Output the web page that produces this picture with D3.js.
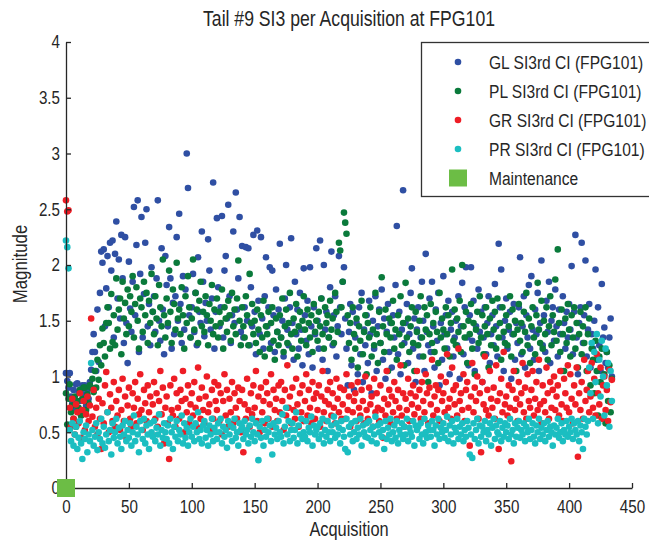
<!DOCTYPE html>
<html><head><meta charset="utf-8">
<script src="https://cdn.jsdelivr.net/npm/d3@7"></script>
<style>
body{margin:0;background:#fff}
svg text{font-family:"Liberation Sans",Arial,sans-serif;fill:#262626}
</style>
</head><body><svg id="c" width="649" height="542"></svg>
<script>
const titleText = "Tail #9 SI3 per Acquisition at FPG101";
const xLabel = "Acquisition";
const yLabel = "Magnitude";
const seriesNames = ["GL SI3rd CI (FPG101)","PL SI3rd CI (FPG101)","GR SI3rd CI (FPG101)","PR SI3rd CI (FPG101)"];
const seriesColors = ["#2f4fa3","#0a7a3b","#ee1d25","#1bbec1"];
const maintenanceName = "Maintenance";
const maintenanceColor = "#6cbd45";
const maintenanceX = [0];
const maintenanceY = [0];
const xTicks = [0,50,100,150,200,250,300,350,400,450];
const yTicks = [0,0.5,1,1.5,2,2.5,3,3.5,4];
const yTickLabels = ["0","0.5","1","1.5","2","2.5","3","3.5","4"];

const glValues = [
1.03,0.96,0.90,1.03,0.82,0.76,0.88,0.71,0.93,0.94,
0.86,0.78,0.65,0.92,0.84,0.92,0.74,0.88,0.80,0.95,
1.06,1.22,1.38,1.22,1.05,1.60,1.13,1.75,2.12,2.02,
2.14,1.45,1.79,2.08,1.62,2.20,1.95,2.22,1.35,2.10,
2.39,1.70,2.05,1.52,2.27,1.88,1.30,2.25,1.48,1.12,
2.03,1.61,1.40,1.85,2.52,1.55,2.18,2.58,1.22,1.92,
2.43,1.35,1.74,2.20,2.50,1.45,1.65,1.28,1.98,1.58,
1.72,1.40,1.88,2.58,1.50,1.32,2.15,1.60,1.20,2.08,
1.82,1.45,2.34,1.88,1.25,1.66,1.38,1.72,2.25,1.50,
2.46,1.65,1.30,1.90,1.42,1.78,3.00,2.69,1.55,1.35,
1.62,1.92,1.40,1.75,1.28,2.07,1.58,1.48,2.30,1.85,
1.36,1.66,1.50,2.23,1.95,1.42,1.70,2.74,1.25,1.58,
2.42,1.80,1.45,1.62,2.44,1.35,1.95,2.08,1.52,2.54,
1.72,1.30,1.55,2.30,1.48,2.65,1.60,1.88,2.43,1.40,
2.17,1.35,1.62,2.16,1.50,2.15,1.28,1.80,1.45,2.27,
1.58,1.20,2.31,1.68,1.38,2.25,1.52,1.25,1.72,2.07,
1.45,1.62,1.98,1.30,1.95,1.55,1.22,1.78,1.40,1.60,
2.19,1.35,1.50,1.18,1.70,2.00,1.42,1.28,1.62,2.24,
1.48,1.15,1.85,1.38,1.60,1.25,1.75,1.42,1.10,1.97,
1.55,1.32,1.68,1.20,1.98,1.45,1.08,1.62,1.38,2.15,
1.50,1.25,2.22,1.70,1.15,2.00,1.42,1.58,1.05,1.35,
1.80,2.12,1.28,1.55,1.72,1.18,1.45,2.08,1.62,1.38,
1.85,1.98,1.52,1.25,0.92,1.40,1.65,1.10,1.58,0.88,
1.35,1.48,1.02,1.62,1.20,1.75,0.95,1.42,1.28,1.55,
1.12,1.68,1.38,0.85,1.50,1.25,1.72,1.05,1.45,1.60,
1.30,1.78,1.15,1.52,0.98,1.40,1.65,1.22,1.48,1.08,
1.55,1.35,1.82,2.35,1.20,1.58,1.02,1.42,2.67,1.30,
1.48,1.65,1.12,1.38,1.75,1.97,1.25,1.52,0.95,1.42,
1.62,1.18,1.35,1.85,1.50,1.05,2.10,1.40,1.28,1.70,
1.22,1.85,1.45,1.08,1.60,1.32,1.75,0.92,1.48,1.15,
1.90,1.38,1.55,1.25,1.68,1.02,1.42,1.58,1.18,1.35,
1.50,1.28,1.72,0.98,1.45,1.84,1.20,1.62,1.98,1.35,
1.10,1.55,1.98,1.32,1.68,1.05,1.45,1.25,1.78,1.40,
1.58,0.95,1.35,1.62,1.20,1.48,1.72,1.12,1.38,1.55,
1.28,1.83,1.45,1.18,2.19,1.62,1.96,1.35,1.05,1.50,
1.70,1.25,1.42,1.58,0.98,1.38,1.65,1.15,1.48,1.30,
1.62,2.07,1.20,1.45,1.72,1.08,1.55,1.35,1.82,1.25,
1.90,1.42,1.15,1.60,1.38,1.75,1.05,1.48,2.04,1.28,
1.55,1.22,1.68,1.40,1.85,1.12,1.50,1.62,1.32,1.78,
1.45,1.18,1.60,1.38,1.05,1.72,1.48,1.25,1.58,1.35,
1.65,1.42,1.99,1.20,1.58,2.27,1.35,1.02,1.48,1.62,
2.20,1.30,1.55,2.04,1.18,1.42,1.65,1.08,1.38,1.25,
1.50,1.96,1.15,1.62,1.28,1.05,1.83,1.35,1.44,1.12,
1.22,1.08,1.35,1.52,1.00];

const plValues = [
0.85,0.57,0.80,0.93,0.68,0.74,0.62,0.82,0.55,0.78,
0.72,0.88,0.65,0.80,0.90,0.90,0.70,0.84,0.76,0.92,
0.90,0.98,0.86,1.05,0.90,1.15,0.97,1.28,1.10,1.43,
1.30,1.18,1.48,1.62,1.48,1.25,1.74,1.31,1.55,1.28,
1.88,1.42,1.60,1.70,1.20,1.85,1.52,1.66,1.38,1.78,
1.45,1.72,1.58,1.90,1.35,1.65,1.80,1.50,1.25,1.70,
1.62,1.40,1.85,1.55,1.75,1.30,1.68,1.48,1.92,1.58,
1.38,1.72,1.52,1.28,1.82,1.62,1.45,2.05,1.55,1.35,
1.70,1.48,1.95,1.58,1.30,1.78,1.65,1.42,2.02,1.52,
1.60,1.38,1.80,1.55,1.25,1.72,1.48,1.90,1.62,1.35,
1.52,2.05,1.42,1.75,1.60,1.30,1.68,1.85,1.45,1.58,
1.40,1.72,1.55,1.28,1.65,1.50,1.82,1.38,1.60,1.45,
1.70,1.35,1.58,1.48,1.78,1.25,1.62,1.52,1.40,1.68,
1.55,1.32,1.75,1.45,1.60,1.38,1.70,2.04,1.50,1.28,
1.62,1.45,1.35,1.72,1.55,1.28,1.92,1.48,1.65,1.38,
1.50,1.30,1.60,1.42,1.22,1.55,1.35,1.68,1.18,1.45,
1.38,1.58,1.25,1.48,1.62,1.32,1.15,1.52,1.40,1.28,
1.55,1.35,1.70,1.22,1.45,1.60,1.30,1.48,1.75,1.38,
1.25,1.52,1.40,1.65,1.18,1.45,1.58,1.32,1.50,1.72,
1.42,1.28,1.60,1.48,1.35,1.55,1.22,1.65,1.40,1.50,
1.32,1.58,1.45,1.70,1.38,1.25,1.62,1.48,1.55,1.35,
1.68,1.42,1.52,1.30,1.75,1.58,1.40,2.20,2.13,1.62,
1.85,2.47,2.38,2.28,1.55,1.30,1.48,1.15,1.62,1.38,
1.25,1.52,1.08,1.45,1.32,1.68,1.20,1.40,1.55,1.02,
1.48,1.35,1.62,1.18,1.42,1.28,1.75,1.38,1.12,1.58,
1.30,1.89,1.45,1.22,1.60,1.38,1.05,1.52,1.35,1.48,
1.68,1.25,1.42,1.15,1.55,1.38,1.72,1.28,1.48,1.10,
1.84,1.35,1.52,1.22,1.45,1.62,1.30,1.05,1.58,1.40,
1.28,1.50,1.72,1.35,1.18,1.62,1.42,1.55,0.95,1.38,
1.65,1.30,1.48,1.22,1.58,1.40,1.12,1.75,1.35,1.52,
1.42,1.25,1.62,1.38,1.55,1.18,1.48,1.96,1.32,1.60,
1.28,1.52,1.40,1.68,1.22,2.00,1.45,1.35,1.58,1.12,
1.50,1.38,1.65,1.25,1.48,1.02,1.42,1.58,1.30,1.72,
1.35,1.55,1.20,1.45,1.62,1.38,1.08,1.52,1.28,1.68,
1.42,1.58,1.25,1.70,1.35,1.48,1.15,1.62,1.40,1.30,
1.55,1.28,1.45,1.72,1.18,1.60,1.38,1.50,1.05,1.42,
1.65,1.32,1.48,1.22,1.58,1.40,1.75,1.28,1.52,1.12,
1.45,1.62,1.35,1.20,1.55,1.84,1.42,1.30,1.68,1.25,
1.50,1.38,1.62,1.15,1.45,1.72,1.28,1.55,1.40,1.87,
1.32,2.14,1.48,1.22,1.60,1.38,1.05,1.52,1.30,1.65,
1.42,1.18,1.55,1.35,1.62,1.25,1.48,1.08,1.38,1.58,
1.20,1.45,1.30,1.62,1.05,1.38,1.52,0.92,1.25,1.15,
0.85,1.32,1.05,0.65,1.18,0.95,1.25,0.62,1.02,0.58,
1.22,0.78,1.10,0.68,0.98];

const grValues = [
2.58,2.48,2.49,0.72,0.55,0.80,0.62,0.48,0.75,0.68,
0.58,0.85,0.45,0.70,0.78,0.52,0.66,0.82,0.60,0.74,
1.52,0.64,0.88,0.55,0.72,0.48,0.80,0.62,0.35,0.76,
0.58,0.92,1.04,0.68,0.50,0.84,0.72,0.60,0.95,0.55,
0.78,0.65,0.88,0.52,0.70,0.98,0.60,0.82,0.45,0.74,
0.90,0.62,0.55,0.85,0.72,0.95,0.58,0.80,0.66,1.02,
0.70,0.52,0.88,0.76,0.60,0.92,0.68,0.82,0.48,0.75,
0.95,0.62,0.85,0.55,0.78,1.05,0.66,0.90,0.40,0.72,
0.82,0.58,0.26,0.92,0.70,0.65,0.98,0.55,0.85,0.72,
0.62,0.88,0.78,1.05,0.50,0.80,0.68,0.92,0.58,0.75,
0.85,0.65,0.95,0.72,0.55,1.08,0.80,0.62,0.90,0.70,
0.58,0.82,1.00,0.68,0.75,0.52,0.88,0.62,0.95,0.78,
0.70,0.92,0.60,0.85,0.48,0.78,1.02,0.65,0.88,0.55,
0.80,0.68,0.95,0.58,0.85,0.72,0.62,0.90,0.78,0.50,
0.88,0.32,0.75,0.62,0.98,0.70,0.55,0.85,0.66,0.92,
0.72,1.05,0.60,0.82,0.50,0.90,0.68,0.78,0.58,0.95,
0.85,0.62,0.75,1.02,0.55,0.88,0.70,0.80,0.60,0.92,
0.68,0.95,0.78,0.52,0.88,0.65,1.10,0.72,0.82,0.58,
0.90,0.70,0.62,0.98,0.75,0.55,0.85,0.68,0.92,0.60,
0.78,1.02,0.65,0.88,0.72,0.58,0.95,0.80,0.62,0.85,
0.70,0.92,0.55,0.82,1.05,0.68,0.78,0.60,0.88,0.75,
0.95,0.65,0.85,0.72,0.58,0.98,0.80,0.68,0.90,0.62,
0.75,0.88,0.62,1.02,0.70,0.82,0.55,0.92,0.68,0.78,
0.85,0.60,0.95,0.72,0.65,0.88,0.78,0.58,1.00,0.70,
0.62,0.90,0.75,0.82,0.55,0.98,0.68,0.85,0.72,0.60,
0.92,0.70,0.45,0.80,0.65,1.05,0.75,0.88,0.58,0.82,
0.68,0.95,0.78,0.62,0.88,0.72,1.10,0.65,0.85,0.55,
0.80,0.70,0.98,0.60,0.85,0.75,0.92,0.66,0.82,1.05,
0.72,0.88,0.62,0.95,0.78,0.68,1.02,0.85,0.58,0.90,
0.75,1.15,0.65,0.82,0.92,0.70,0.88,0.60,1.00,0.78,
0.85,0.68,0.95,1.20,0.72,0.80,0.62,1.08,0.88,0.75,
0.92,0.65,1.25,0.78,0.85,0.70,1.02,0.60,0.88,0.95,
0.72,0.38,0.82,1.12,0.68,0.90,0.78,1.00,0.62,0.85,
0.32,0.95,0.75,1.18,0.70,0.88,0.65,1.05,0.80,0.72,
0.90,0.62,1.10,0.78,0.35,0.85,0.98,0.68,1.22,0.75,
0.82,0.65,0.92,0.72,0.24,0.88,1.05,0.70,0.80,0.60,
0.95,0.75,0.85,1.12,0.68,0.90,0.62,1.02,0.78,0.72,
0.88,1.05,0.65,0.80,0.95,0.70,1.15,0.75,0.58,0.92,
0.78,0.68,1.08,0.85,0.62,0.95,0.72,0.88,1.00,0.70,
0.82,0.92,0.65,1.05,0.75,0.60,0.98,0.85,0.72,1.10,
0.68,1.02,0.80,0.58,0.92,0.75,1.08,0.28,0.85,0.70,
0.95,0.62,1.15,0.78,0.88,1.05,0.68,0.82,1.12,0.72,
0.98,0.65,1.20,0.85,0.75,1.08,0.62,0.92,1.00,0.70,
0.88,0.60,1.06,0.77,0.97];

const prValues = [
2.22,2.16,1.97,0.52,0.42,0.58,0.38,0.48,0.55,0.35,
0.45,0.60,0.40,0.26,0.50,0.44,0.56,0.32,0.48,0.42,
1.12,0.52,0.38,0.46,0.58,0.34,0.50,0.44,0.62,0.40,
0.55,0.36,0.48,0.68,0.42,0.52,0.30,0.58,0.45,0.50,
0.62,0.40,0.54,0.46,0.35,0.56,0.48,0.60,0.42,0.52,
0.45,0.58,0.38,0.50,0.65,0.42,0.55,0.48,0.32,0.60,
0.52,0.44,0.62,0.40,0.56,0.48,0.35,0.58,0.50,0.46,
0.60,0.42,0.54,0.48,0.66,0.38,0.52,0.45,0.58,0.50,
0.44,0.56,0.40,0.62,0.50,0.35,0.55,0.46,0.60,0.42,
0.52,0.48,0.65,0.40,0.58,0.45,0.54,0.38,0.50,0.62,
0.46,0.55,0.42,0.58,0.50,0.68,0.44,0.52,0.40,0.56,
0.60,0.45,0.52,0.38,0.56,0.48,0.62,0.42,0.54,0.50,
0.44,0.58,0.50,0.62,0.40,0.55,0.46,0.52,0.36,0.60,
0.48,0.56,0.42,0.54,0.62,0.45,0.50,0.38,0.58,0.52,
0.55,0.44,0.60,0.48,0.52,0.40,0.56,0.46,0.62,0.50,
0.42,0.58,0.48,0.25,0.55,0.45,0.60,0.38,0.52,0.46,
0.62,0.50,0.56,0.42,0.30,0.58,0.48,0.54,0.44,0.60,
0.50,0.46,0.66,0.40,0.55,0.72,0.48,0.60,0.42,0.52,
0.58,0.45,0.52,0.68,0.40,0.56,0.48,0.62,0.44,0.50,
0.46,0.60,0.42,0.54,0.50,0.64,0.38,0.56,0.48,0.52,
0.55,0.44,0.58,0.48,0.62,0.40,0.52,0.46,0.60,0.50,
0.42,0.56,0.50,0.64,0.45,0.58,0.48,0.54,0.40,0.60,
0.52,0.46,0.35,0.62,0.32,0.55,0.48,0.58,0.42,0.50,
0.60,0.44,0.54,0.48,0.62,0.38,0.56,0.50,0.46,0.58,
0.45,0.60,0.52,0.42,0.55,0.48,0.64,0.40,0.56,0.50,
0.58,0.46,0.52,0.35,0.60,0.44,0.54,0.48,0.62,0.42,
0.50,0.56,0.45,0.60,0.40,0.52,0.48,0.58,0.44,0.55,
0.48,0.62,0.42,0.54,0.50,0.46,0.60,0.38,0.56,0.52,
0.55,0.44,0.58,0.48,0.40,0.62,0.50,0.45,0.56,0.52,
0.46,0.60,0.52,0.38,0.56,0.48,0.62,0.44,0.54,0.50,
0.58,0.45,0.52,0.64,0.42,0.56,0.48,0.60,0.40,0.54,
0.50,0.62,0.44,0.55,0.48,0.58,0.42,0.52,0.46,0.60,
0.54,0.30,0.48,0.27,0.58,0.44,0.52,0.62,0.40,0.56,
0.46,0.55,0.50,0.60,0.42,0.52,0.48,0.58,0.38,0.54,
0.62,0.44,0.56,0.50,0.48,0.60,0.42,0.54,0.46,0.58,
0.50,0.56,0.44,0.62,0.48,0.52,0.40,0.58,0.46,0.54,
0.60,0.45,0.52,0.48,0.58,0.42,0.55,0.50,0.62,0.44,
0.52,0.58,0.46,0.40,0.56,0.50,0.62,0.44,0.54,0.48,
0.58,0.42,0.52,0.60,0.46,0.55,0.50,0.38,0.56,0.48,
0.54,0.62,0.45,0.50,0.58,0.42,0.52,0.48,0.60,0.46,
0.55,0.50,0.62,0.44,0.58,0.52,0.48,0.60,0.42,0.56,
0.50,0.35,0.62,0.55,0.48,0.60,1.08,0.85,1.30,0.62,
1.22,0.95,1.38,0.58,1.15,0.82,1.32,1.00,0.65,1.25,
0.92,1.12,0.55,1.05,0.78];

const seriesValues = [glValues, plValues, grValues, prValues];

const NARROW = 0.82;
const svg = d3.select("#c");
const x = d3.scaleLinear().domain([0,450]).range([66,632]);
const y = d3.scaleLinear().domain([0,4]).range([488,42]);
const axisColor = "#262626";

function narrowText(parent, px, py, str, size, anchor, rot) {
  return parent.append("text")
    .attr("transform", `translate(${px},${py})` + (rot ? ` rotate(${rot})` : "") + ` scale(${NARROW},1)`)
    .attr("text-anchor", anchor || "start")
    .style("font-size", size + "px")
    .text(str);
}

// title
narrowText(svg, 349, 26, titleText, 21.5, "middle");

// points
seriesValues.forEach((vals,si)=>{
  svg.append("g").selectAll("circle").data(vals).join("circle")
    .attr("cx",(d,i)=>x(i)).attr("cy",d=>y(d)).attr("r",3.3)
    .attr("fill",seriesColors[si]);
});

// axes
const xAxis = svg.append("g").attr("transform","translate(0,488)")
  .call(d3.axisBottom(x).tickValues(xTicks).tickSize(-5).tickSizeOuter(0).tickPadding(12).tickFormat(d3.format("d")));
const yAxis = svg.append("g").attr("transform","translate(66,0)")
  .call(d3.axisLeft(y).tickValues(yTicks).tickSize(-5).tickSizeOuter(0).tickPadding(6).tickFormat((d,i)=>yTickLabels[i]));
[xAxis,yAxis].forEach(a=>{
  a.select(".domain").attr("stroke",axisColor).attr("stroke-width",1.3);
  a.selectAll(".tick line").attr("stroke",axisColor).attr("stroke-width",1.3);
  a.selectAll(".tick text").style("font-size","18.5px").attr("fill",axisColor)
    .attr("font-family",null);
});
xAxis.selectAll(".tick text").attr("transform",`scale(${NARROW},1)`);
yAxis.selectAll(".tick text").attr("x",-6/NARROW).attr("transform",`scale(${NARROW},1)`);

// maintenance marker
svg.append("g").selectAll("rect").data(maintenanceX.map((d,i)=>({x:d,y:maintenanceY[i]}))).join("rect")
  .attr("x",d=>x(d.x)-9).attr("y",d=>y(d.y)-9).attr("width",18).attr("height",18)
  .attr("fill",maintenanceColor);

// axis labels
narrowText(svg, 349, 536, xLabel, 20, "middle");
narrowText(svg, 27, 264, yLabel, 20.5, "middle", -90);

// legend
const lg = svg.append("g");
lg.append("rect").attr("x",421.5).attr("y",42.5).attr("width",240).attr("height",154)
  .attr("fill","#fff").attr("stroke","#333").attr("stroke-width",1.3);
const rowY = [62,91,120,149,178];
seriesNames.forEach((n,i)=>{
  lg.append("circle").attr("cx",458).attr("cy",rowY[i]).attr("r",3.3).attr("fill",seriesColors[i]);
  narrowText(lg, 489, rowY[i]+7, n, 19);
});
lg.append("rect").attr("x",449).attr("y",rowY[4]-8.5).attr("width",18).attr("height",17).attr("fill",maintenanceColor);
narrowText(lg, 489, rowY[4]+7, maintenanceName, 19);
</script></body></html>
